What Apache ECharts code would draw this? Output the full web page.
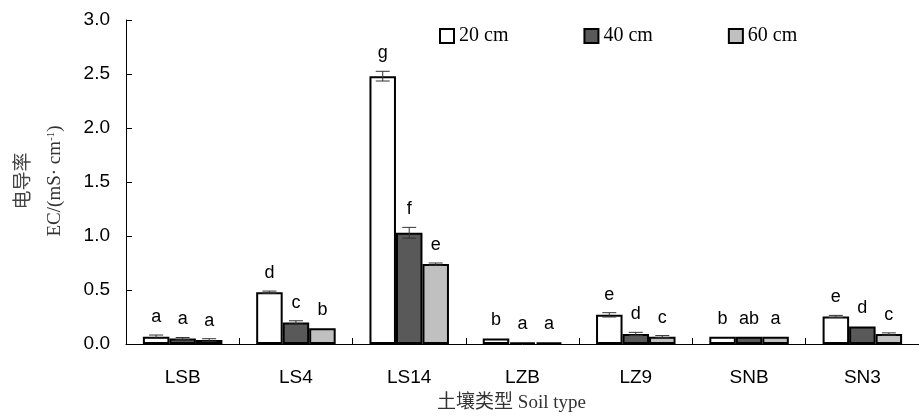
<!DOCTYPE html>
<html>
<head>
<meta charset="utf-8">
<script src="https://cdn.jsdelivr.net/npm/echarts@6/dist/echarts.min.js"></script>
<style>html,body{margin:0;padding:0;background:#fff;}#c{width:919px;height:418px;}</style>
</head>
<body>
<div id="c"></div>
<script>
const categories = ['LSB', 'LS4', 'LS14', 'LZB', 'LZ9', 'SNB', 'SN3'];
const seriesNames = ['20 cm', '40 cm', '60 cm'];
const values20 = [0.068, 0.48, 2.48, 0.052, 0.27, 0.068, 0.255];
const values40 = [0.050, 0.20, 1.03, 0.015, 0.093, 0.068, 0.163];
const values60 = [0.037, 0.145, 0.74, 0.015, 0.068, 0.068, 0.093];
const err20 = [0.015, 0.01, 0.045, 0, 0.02, 0, 0.01];
const err40 = [0.01, 0.015, 0.05, 0, 0.015, 0, 0];
const err60 = [0.012, 0, 0.01, 0, 0.01, 0, 0.01];
const letters20 = ['a', 'd', 'g', 'b', 'e', 'b', 'e'];
const letters40 = ['a', 'c', 'f', 'a', 'd', 'ab', 'd'];
const letters60 = ['a', 'b', 'e', 'a', 'c', 'a', 'c'];
const yTicks = [0, 0.5, 1.0, 1.5, 2.0, 2.5, 3.0];

const colors = ['#ffffff', '#595959', '#c0c0c0'];
const BAR_W = 26.5;
const PX_PER_UNIT = 107.7;
const allVals = [values20, values40, values60];
const allErr = [err20, err40, err60];
const allLetters = [letters20, letters40, letters60];

const series = [];
seriesNames.forEach((name, s) => {
  series.push({
    name: name,
    type: 'bar',
    barWidth: BAR_W,
    barGap: '0%',
    itemStyle: { color: colors[s], borderColor: '#000', borderWidth: 2 },
    label: {
      show: true, position: 'top',
      fontFamily: 'Liberation Sans, Arial', fontSize: 18, color: '#000',
      formatter: p => allLetters[s][p.dataIndex]
    },
    data: allVals[s].map((v, i) => ({
      value: v,
      label: { distance: 9 + allErr[s][i] * PX_PER_UNIT }
    })),
    z: 2
  });
});
seriesNames.forEach((name, s) => {
  series.push({
    type: 'custom',
    name: name + ' err',
    z: 5,
    silent: true,
    data: categories.map((c, i) => [i, allVals[s][i], allErr[s][i]]),
    renderItem: function (params, api) {
      const i = api.value(0), v = api.value(1), e = api.value(2);
      if (!e) return null;
      const p = api.coord([i, v]);
      const hi = api.coord([i, v + e]);
      const lo = api.coord([i, v - e]);
      const x = p[0] + (s - 1) * BAR_W;
      const cap = 7;
      const st = { stroke: '#333', lineWidth: 1 };
      return {
        type: 'group',
        children: [
          { type: 'line', shape: { x1: x, y1: hi[1], x2: x, y2: lo[1] }, style: st },
          { type: 'line', shape: { x1: x - cap, y1: hi[1], x2: x + cap, y2: hi[1] }, style: st },
          { type: 'line', shape: { x1: x - cap, y1: lo[1], x2: x + cap, y2: lo[1] }, style: st }
        ]
      };
    }
  });
});

const chart = echarts.init(document.getElementById('c'), null, { renderer: 'canvas' });
chart.setOption({
  animation: false,
  backgroundColor: '#fff',
  grid: { left: 126, right: -8, top: 20, bottom: 74, containLabel: false },
  legend: {
    data: seriesNames,
    left: 434, top: 21,
    itemWidth: 14, itemHeight: 14, itemGap: 75,
    icon: 'rect',
    textStyle: { fontFamily: 'Liberation Serif, Times New Roman', fontSize: 20, color: '#000' }
  },
  xAxis: {
    type: 'category',
    data: categories,
    axisLine: { lineStyle: { color: '#000', width: 1 } },
    axisTick: { show: true, inside: true, length: 6, lineStyle: { color: '#000' } },
    axisLabel: { margin: 24, fontFamily: 'Liberation Sans, Arial', fontSize: 19, color: '#000' },
    name: '土壤类型 Soil type',
    nameLocation: 'middle',
    nameGap: 50,
    nameTextStyle: { fontFamily: 'Liberation Serif, Noto Sans CJK SC', fontSize: 19, color: '#333', padding: [0, 22, 0, 0] }
  },
  yAxis: {
    type: 'value',
    min: yTicks[0], max: yTicks[yTicks.length - 1], interval: 0.5,
    axisLine: { show: true, lineStyle: { color: '#000', width: 1 } },
    axisTick: { show: true, inside: true, length: 6, lineStyle: { color: '#000' } },
    splitLine: { show: false },
    axisLabel: { margin: 16, fontFamily: 'Liberation Sans, Arial', fontSize: 19, color: '#000', formatter: v => v.toFixed(1) }
  },
  graphic: [
    {
      type: 'text', x: 22, y: 181, rotation: Math.PI / 2,
      style: { text: '电导率', fontFamily: 'Noto Sans CJK SC', fontSize: 19, fill: '#444', align: 'center', verticalAlign: 'middle' }
    },
    {
      type: 'text', x: 55, y: 181, rotation: Math.PI / 2,
      style: {
        text: '{n|EC/(mS· cm}{s|-1}{n|)}',
        align: 'center', verticalAlign: 'middle',
        rich: {
          n: { fontFamily: 'Liberation Serif, Times New Roman', fontSize: 19, fill: '#333' },
          s: { fontFamily: 'Liberation Serif, Times New Roman', fontSize: 11, fill: '#333', verticalAlign: 'top', padding: [0, 0, 8, 0] }
        }
      }
    }
  ],
  series: series
});
</script>
</body>
</html>
